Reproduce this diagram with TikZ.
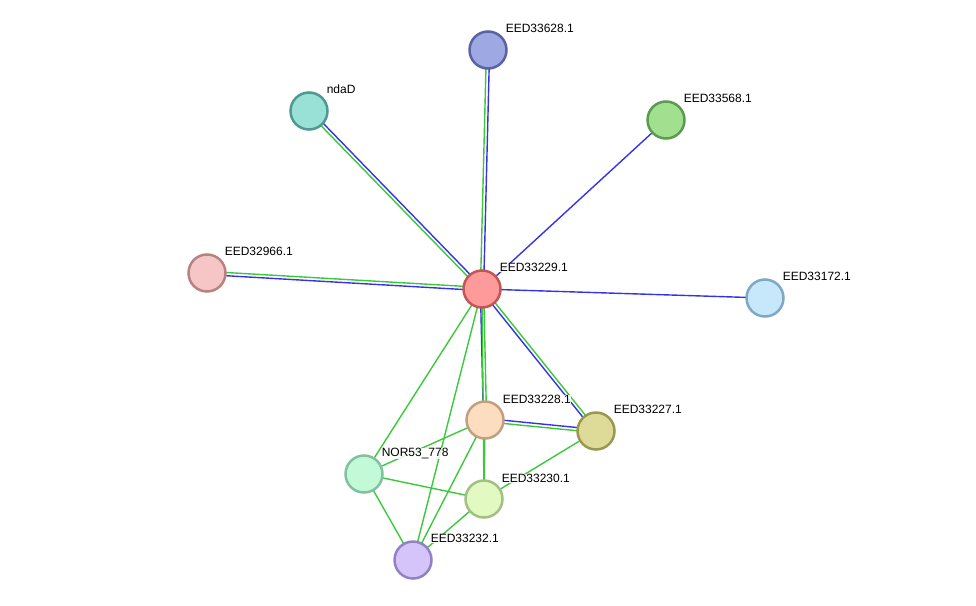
\documentclass[tikz,border=0pt]{standalone}
\usepackage{fontspec}
\setmainfont{Liberation Sans}
\usetikzlibrary{calc}
\definecolor{eg}{HTML}{3CC83C}
\definecolor{eb}{HTML}{3434E6}
\definecolor{f229}{HTML}{FF9A9A}\definecolor{d229}{HTML}{C25656}
\definecolor{f628}{HTML}{9EA8E2}\definecolor{d628}{HTML}{5A62A2}
\definecolor{fnda}{HTML}{99E0D6}\definecolor{dnda}{HTML}{4E9A92}
\definecolor{f568}{HTML}{A0E08E}\definecolor{d568}{HTML}{5C9A52}
\definecolor{f966}{HTML}{F6C6C6}\definecolor{d966}{HTML}{B88282}
\definecolor{f172}{HTML}{C6E8FA}\definecolor{d172}{HTML}{80A8C6}
\definecolor{f228}{HTML}{FDDDC0}\definecolor{d228}{HTML}{C0A080}
\definecolor{f227}{HTML}{DEDA98}\definecolor{d227}{HTML}{9A9850}
\definecolor{fnor}{HTML}{C2FAD8}\definecolor{dnor}{HTML}{82C0A0}
\definecolor{f230}{HTML}{E2FAC2}\definecolor{d230}{HTML}{A2C082}
\definecolor{f232}{HTML}{D4C4FA}\definecolor{d232}{HTML}{9282C2}
\tikzset{
  prot/.style={circle,minimum size=37pt,inner sep=0pt,line width=2.5pt,fill=f#1,draw=d#1},
  lbl/.style={anchor=west,font=\fontsize{12}{14}\selectfont,fill=white,fill opacity=0.85,text opacity=1,inner sep=0.6pt},
  gl/.style={draw=eg,line width=1.4pt},
  bl/.style={draw=eb,line width=1.4pt}
}
% \twin{a}{b}{style on +90 side}{style on -90 side}
\newcommand{\twin}[4]{%
  \draw[#3] ($(#1)!1.6pt!90:(#2)$) -- ($(#2)!1.6pt!-90:(#1)$);
  \draw[#4] ($(#1)!1.6pt!-90:(#2)$) -- ($(#2)!1.6pt!90:(#1)$);}
\begin{document}
\begin{tikzpicture}[x=1pt,y=-1pt]
\useasboundingbox (0,0) rectangle (976,605);
% node positions
\coordinate (c) at (482,289);
\coordinate (p628) at (488,50);
\coordinate (nda) at (309,111);
\coordinate (p568) at (666,120);
\coordinate (p966) at (207,273);
\coordinate (p172) at (765,298);
\coordinate (p228) at (485,420);
\coordinate (p227) at (596,431);
\coordinate (nor) at (364,474);
\coordinate (p230) at (484,499);
\coordinate (p232) at (413,560);
% edges
\twin{c}{p628}{gl}{bl}
\twin{c}{nda}{gl}{bl}
\draw[bl] (c) -- (p568);
\twin{c}{p966}{bl}{gl}
\draw[bl] (c) -- (p172);
\twin{c}{p228}{gl}{bl}
\twin{c}{p227}{gl}{bl}
\draw[gl] (c) -- (nor);
\draw[gl] (c) -- (p232);
\draw[gl] (c) -- (p230);
\twin{p228}{p227}{bl}{gl}
\draw[gl] (p228) -- (nor);
\draw[gl] (p228) -- (p232);
\draw[gl] (p228) -- (p230);
\draw[gl] (nor) -- (p230);
\draw[gl] (nor) -- (p232);
\draw[gl] (p230) -- (p232);
\draw[gl] (p227) -- (p230);
% nodes
\node[prot=229] (n229) at (c) {};
\node[prot=628] (n628) at (p628) {};
\node[prot=nda] (nnda) at (nda) {};
\node[prot=568] (n568) at (p568) {};
\node[prot=966] (n966) at (p966) {};
\node[prot=172] (n172) at (p172) {};
\node[prot=228] (n228) at (p228) {};
\node[prot=227] (n227) at (p227) {};
\node[prot=nor] (nnor) at (nor) {};
\node[prot=230] (n230) at (p230) {};
\node[prot=232] (n232) at (p232) {};
% labels
\node[lbl] (l229) at ($(c)+(17,-21.5)$) {EED33229.1};
\node[lbl] (l628) at ($(p628)+(17,-21.5)$) {EED33628.1};
\node[lbl] (lnda) at ($(nda)+(17,-21.5)$) {ndaD};
\node[lbl] (l568) at ($(p568)+(17,-21.5)$) {EED33568.1};
\node[lbl] (l966) at ($(p966)+(17,-21.5)$) {EED32966.1};
\node[lbl] (l172) at ($(p172)+(17,-21.5)$) {EED33172.1};
\node[lbl] (l228) at ($(p228)+(17,-20.5)$) {EED33228.1};
\node[lbl] (l227) at ($(p227)+(17,-21.5)$) {EED33227.1};
\node[lbl] (lnor) at ($(nor)+(17,-20.5)$) {NOR53\_778};
\node[lbl] (l230) at ($(p230)+(17,-20.5)$) {EED33230.1};
\node[lbl] (l232) at ($(p232)+(17,-21.5)$) {EED33232.1};
\end{tikzpicture}
\end{document}
